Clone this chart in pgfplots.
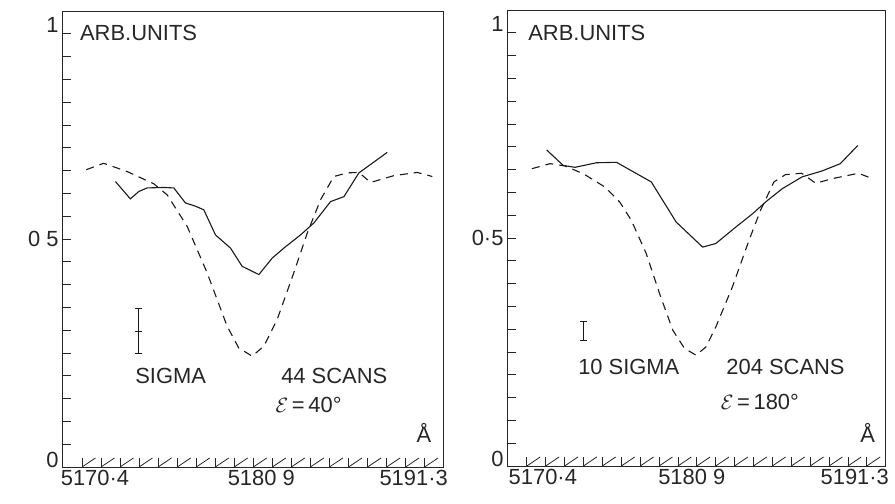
\documentclass[border=0pt]{standalone}
\usepackage{pgfplots}
\pgfplotsset{compat=1.18}
\usepackage{fontspec}
\setmainfont{Liberation Sans}
\newcommand{\fs}{\fontsize{22}{26}\selectfont}
\tikzset{lab/.style={font=\fs, text=black!85, inner sep=0pt}}
% x values are wavelengths minus 5170 Angstrom
\newcommand{\xticksdraw}{%
  \pgfplotsinvokeforeach{0.40,1.56,2.72,3.88,5.04,6.21,7.37,8.53,9.69,10.85,12.01,13.17,14.33,15.49,16.66,17.82,18.98,20.14,21.30}{%
    \draw[line width=0.8bp, black!85] (axis cs:##1,0) -- ++(0,9bp);}}
\pgfplotsset{
  spec/.style={
    scale only axis, width=381bp, height=456bp,
    anchor=south west,
    xmin=-0.82, xmax=22.42, ymin=0, ymax=1,
    axis line style={line width=0.9bp, black!85},
    tick align=inside, xtick pos=bottom, ytick pos=left,
    tick style={line width=0.8bp, black!85},
    major tick length=9bp, minor tick length=9bp,
    xtick={0.40,1.56,2.72,3.88,5.04,6.21,7.37,8.53,9.69,10.85,12.01,13.17,14.33,15.49,16.66,17.82,18.98,20.14,21.30},
    ytick={0.5},
    minor ytick={0.05,0.1,0.15,0.2,0.25,0.3,0.35,0.4,0.45,0.55,0.6,0.65,0.7,0.75,0.8,0.85,0.9,0.95},
    extra y ticks={0.015,0.97},
    extra y tick labels={0,1},
    extra y tick style={major tick length=0pt},
    tick label style={font=\fs, black!85},
    clip=false,
  },
  sol/.style={black!90, line width=1.1bp, no marks},
  das/.style={black!90, line width=1.1bp, no marks, dash pattern=on 8bp off 6bp},
  sig/.style={black!90, line width=1bp, mark=-, mark size=3.5bp, mark options={solid, line width=1bp}},
}
\begin{document}
\begin{tikzpicture}
\useasboundingbox (0bp,0bp) rectangle (895bp,504bp);
% ---------- left panel ----------
\begin{axis}[spec, at={(62bp,37bp)},
  yticklabels={0 5},
  xticklabels={\hspace*{26bp}5170·4,,,,,,,,,\hspace*{16bp}5180 9,,,,,,,,,5191·3\hspace*{22bp}}]
\addplot[das] coordinates {
(0.66,0.652)(1.72,0.666)(3.15,0.648)(4.78,0.621)(5.59,0.597)
(6.81,0.528)(8.03,0.426)(9.25,0.309)(9.96,0.261)(10.78,0.243)
(11.49,0.265)(12.30,0.323)(13.32,0.426)(14.14,0.513)(14.95,0.586)
(15.76,0.637)(16.58,0.645)(17.29,0.646)(18.00,0.624)(19.43,0.639)
(20.85,0.646)(21.77,0.637)};
\addplot[sol] coordinates {
(2.44,0.626)(3.35,0.588)(3.86,0.604)(4.37,0.612)(5.39,0.613)
(6.00,0.612)(6.71,0.579)(7.32,0.572)(7.83,0.564)(8.54,0.509)
(9.46,0.480)(10.17,0.440)(11.19,0.422)(12.00,0.458)(12.71,0.480)
(13.73,0.509)(14.54,0.535)(15.56,0.582)(16.38,0.593)(17.29,0.645)
(19.02,0.690)};
% sigma bar: lower cap, centre, upper cap
\addplot[sig] coordinates {(3.86,0.248)(3.86,0.298)(3.86,0.348)};
\xticksdraw
\node[lab, anchor=west] at (rel axis cs:0.047,0.952) {ARB.UNITS};
\node[lab, anchor=west] at (rel axis cs:0.192,0.200) {SIGMA};
\node[lab, anchor=west] at (rel axis cs:0.575,0.200) {44 SCANS};
\node[lab, anchor=west] at (rel axis cs:0.560,0.136) {$\mathcal{E}$\,=\,40°};
\node[lab] at (rel axis cs:0.950,0.075) {Å};
\end{axis}
% ---------- right panel ----------
\begin{axis}[spec, at={(507bp,38bp)}, width=378bp,
  yticklabels={0·5},
  xticklabels={\hspace*{32bp}5170·4,,,,,,,,,5180 9\hspace*{10bp},,,,,,,,,5191·3\hspace*{24bp}}]
\addplot[das] coordinates {
(0.71,0.652)(1.83,0.663)(2.74,0.658)(3.87,0.641)(5.19,0.612)
(6.11,0.579)(6.82,0.539)(7.74,0.466)(8.56,0.378)(9.37,0.298)
(10.09,0.258)(10.80,0.243)(11.41,0.261)(12.02,0.305)(13.04,0.393)
(14.06,0.495)(14.77,0.561)(15.59,0.623)(16.30,0.639)(17.30,0.642)
(18.16,0.620)(19.16,0.630)(20.79,0.642)(21.58,0.631)};
\addplot[sol] coordinates {
(1.62,0.693)(2.64,0.659)(3.36,0.655)(4.68,0.665)(5.91,0.666)
(8.05,0.623)(9.58,0.535)(11.21,0.480)(12.02,0.488)(13.25,0.524)
(14.27,0.553)(15.18,0.582)(16.10,0.608)(17.32,0.634)(18.55,0.647)
(19.67,0.663)(20.75,0.703)};
\addplot[sig] coordinates {(3.87,0.276)(3.87,0.316)};
\xticksdraw
\node[lab, anchor=west] at (rel axis cs:0.188,0.217) {10 SIGMA};
\node[lab, anchor=west] at (rel axis cs:0.056,0.950) {ARB.UNITS};
\node[lab, anchor=west] at (rel axis cs:0.580,0.217) {204 SCANS};
\node[lab, anchor=west] at (rel axis cs:0.565,0.140) {$\mathcal{E}$\,=\,180°};
\node[lab] at (rel axis cs:0.954,0.072) {Å};
\end{axis}
\end{tikzpicture}
\end{document}
